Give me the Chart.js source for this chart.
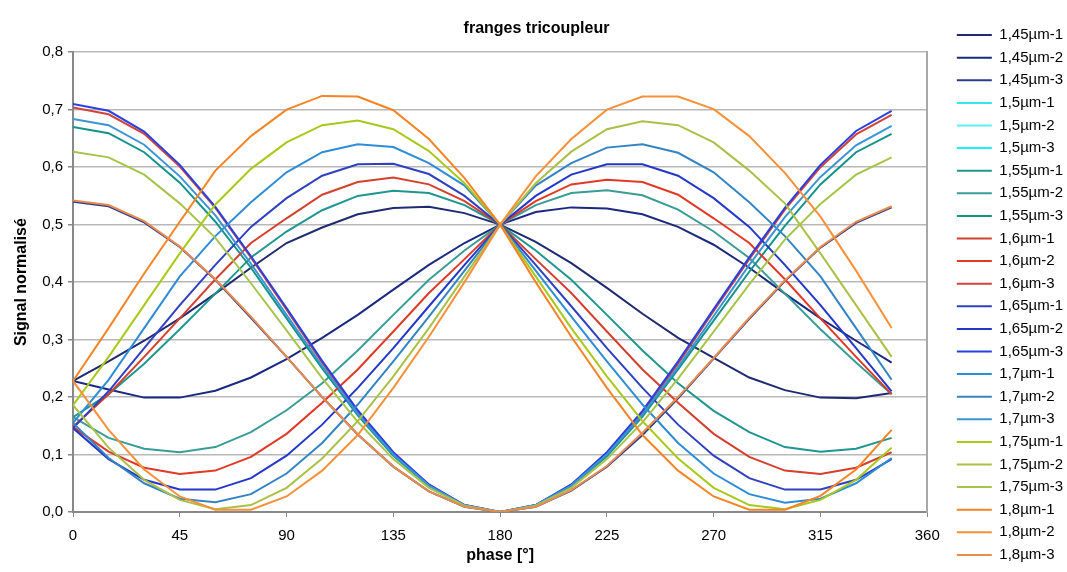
<!DOCTYPE html>
<html>
<head>
<meta charset="utf-8">
<script src="https://cdn.jsdelivr.net/npm/chart.js@4.4.1/dist/chart.umd.min.js"></script>
<style>
html, body { margin: 0; padding: 0; background: #fff; }
</style>
</head>
<body>
<canvas id="graficaFranges" width="1067" height="572"></canvas>
<script>
// phase en degres
const phase = [0, 15, 30, 45, 60, 75, 90, 105, 120, 135, 150, 165, 180, 195, 210, 225, 240, 255, 270, 285, 300, 315, 330, 345];

const s145_1 = [0.228, 0.262, 0.298, 0.337, 0.380, 0.425, 0.468, 0.495, 0.518, 0.529, 0.531, 0.520, 0.500, 0.470, 0.433, 0.390, 0.345, 0.303, 0.268, 0.234, 0.212, 0.199, 0.198, 0.207];
const s145_2 = [0.228, 0.213, 0.199, 0.199, 0.211, 0.234, 0.266, 0.303, 0.343, 0.387, 0.430, 0.468, 0.500, 0.522, 0.530, 0.528, 0.518, 0.496, 0.465, 0.425, 0.380, 0.337, 0.298, 0.260];
const s145_3 = [0.540, 0.532, 0.504, 0.461, 0.404, 0.338, 0.270, 0.200, 0.135, 0.079, 0.036, 0.009, 0.000, 0.009, 0.037, 0.079, 0.134, 0.198, 0.267, 0.336, 0.402, 0.460, 0.503, 0.530];

const s15_1 = [];
const s15_2 = [];
const s15_3 = [];

const s155_1 = [0.165, 0.205, 0.258, 0.318, 0.380, 0.443, 0.488, 0.525, 0.550, 0.559, 0.555, 0.534, 0.500, 0.455, 0.404, 0.343, 0.281, 0.224, 0.176, 0.139, 0.113, 0.105, 0.110, 0.129];
const s155_2 = [0.165, 0.129, 0.110, 0.104, 0.113, 0.139, 0.177, 0.224, 0.281, 0.343, 0.404, 0.455, 0.500, 0.534, 0.555, 0.560, 0.551, 0.526, 0.488, 0.442, 0.380, 0.318, 0.260, 0.205];
const s155_3 = [0.670, 0.659, 0.626, 0.573, 0.505, 0.425, 0.337, 0.250, 0.168, 0.098, 0.045, 0.011, 0.000, 0.011, 0.045, 0.097, 0.166, 0.248, 0.333, 0.418, 0.498, 0.570, 0.626, 0.658];

const s16_1 = [0.148, 0.205, 0.270, 0.337, 0.405, 0.468, 0.511, 0.552, 0.574, 0.582, 0.570, 0.541, 0.500, 0.440, 0.381, 0.314, 0.248, 0.190, 0.136, 0.096, 0.072, 0.066, 0.077, 0.104];
const s16_2 = [0.148, 0.105, 0.077, 0.066, 0.072, 0.096, 0.136, 0.190, 0.248, 0.314, 0.381, 0.440, 0.500, 0.541, 0.570, 0.578, 0.574, 0.552, 0.511, 0.468, 0.405, 0.337, 0.270, 0.205];
const s16_3 = [0.704, 0.692, 0.658, 0.601, 0.529, 0.443, 0.352, 0.260, 0.174, 0.102, 0.047, 0.012, 0.000, 0.012, 0.047, 0.101, 0.173, 0.258, 0.350, 0.440, 0.526, 0.600, 0.657, 0.691];

const s165_1 = [0.146, 0.210, 0.285, 0.360, 0.430, 0.496, 0.546, 0.585, 0.605, 0.606, 0.588, 0.550, 0.500, 0.430, 0.358, 0.285, 0.216, 0.152, 0.098, 0.059, 0.039, 0.039, 0.056, 0.092];
const s165_2 = [0.146, 0.092, 0.056, 0.039, 0.039, 0.059, 0.098, 0.152, 0.216, 0.285, 0.358, 0.430, 0.500, 0.550, 0.587, 0.605, 0.605, 0.585, 0.546, 0.496, 0.430, 0.360, 0.285, 0.210];
const s165_3 = [0.710, 0.698, 0.662, 0.604, 0.531, 0.445, 0.355, 0.263, 0.177, 0.104, 0.048, 0.012, 0.000, 0.012, 0.048, 0.104, 0.176, 0.262, 0.353, 0.443, 0.529, 0.604, 0.663, 0.698];

const s17_1 = [0.155, 0.230, 0.320, 0.410, 0.480, 0.539, 0.591, 0.626, 0.640, 0.635, 0.607, 0.568, 0.500, 0.420, 0.340, 0.262, 0.187, 0.120, 0.067, 0.031, 0.016, 0.023, 0.050, 0.094];
const s17_2 = [0.155, 0.094, 0.050, 0.023, 0.017, 0.031, 0.067, 0.120, 0.187, 0.262, 0.340, 0.420, 0.500, 0.568, 0.607, 0.634, 0.640, 0.625, 0.591, 0.539, 0.480, 0.410, 0.320, 0.230];
const s17_3 = [0.684, 0.673, 0.639, 0.584, 0.516, 0.432, 0.343, 0.254, 0.171, 0.100, 0.046, 0.012, 0.000, 0.012, 0.046, 0.100, 0.170, 0.252, 0.341, 0.430, 0.513, 0.583, 0.638, 0.672];

const s175_1 = [0.186, 0.270, 0.360, 0.450, 0.535, 0.597, 0.643, 0.673, 0.681, 0.666, 0.628, 0.572, 0.500, 0.410, 0.320, 0.236, 0.158, 0.093, 0.042, 0.012, 0.005, 0.021, 0.056, 0.112];
const s175_2 = [0.186, 0.112, 0.056, 0.021, 0.005, 0.012, 0.042, 0.093, 0.158, 0.236, 0.320, 0.410, 0.500, 0.572, 0.627, 0.666, 0.680, 0.673, 0.643, 0.594, 0.537, 0.450, 0.360, 0.270];
const s175_3 = [0.627, 0.617, 0.587, 0.537, 0.477, 0.398, 0.316, 0.233, 0.157, 0.092, 0.042, 0.011, 0.000, 0.011, 0.042, 0.092, 0.156, 0.232, 0.314, 0.396, 0.474, 0.536, 0.587, 0.617];

const s18_1 = [0.228, 0.320, 0.415, 0.505, 0.594, 0.654, 0.700, 0.724, 0.723, 0.699, 0.649, 0.581, 0.500, 0.400, 0.305, 0.216, 0.134, 0.072, 0.027, 0.004, 0.004, 0.028, 0.074, 0.143];
const s18_2 = [0.228, 0.143, 0.074, 0.027, 0.004, 0.004, 0.027, 0.072, 0.134, 0.216, 0.305, 0.400, 0.500, 0.584, 0.649, 0.700, 0.723, 0.723, 0.701, 0.654, 0.590, 0.514, 0.420, 0.320];
const s18_3 = [0.542, 0.534, 0.506, 0.462, 0.405, 0.340, 0.270, 0.200, 0.135, 0.079, 0.036, 0.009, 0.000, 0.009, 0.038, 0.080, 0.138, 0.200, 0.268, 0.338, 0.403, 0.461, 0.505, 0.532];

const noms = [
    '1,45µm-1', '1,45µm-2', '1,45µm-3',
    '1,5µm-1', '1,5µm-2', '1,5µm-3',
    '1,55µm-1', '1,55µm-2', '1,55µm-3',
    '1,6µm-1', '1,6µm-2', '1,6µm-3',
    '1,65µm-1', '1,65µm-2', '1,65µm-3',
    '1,7µm-1', '1,7µm-2', '1,7µm-3',
    '1,75µm-1', '1,75µm-2', '1,75µm-3',
    '1,8µm-1', '1,8µm-2', '1,8µm-3'
];

const valeurs = [
    s145_1, s145_2, s145_3,
    s15_1, s15_2, s15_3,
    s155_1, s155_2, s155_3,
    s16_1, s16_2, s16_3,
    s165_1, s165_2, s165_3,
    s17_1, s17_2, s17_3,
    s175_1, s175_2, s175_3,
    s18_1, s18_2, s18_3
];

const couleurs = [
    '#1f2a70', '#1b2a80', '#2c3a92',
    '#33e6f0', '#5cf0f0', '#1ef0f8',
    '#1f968f', '#3a9c96', '#12948a',
    '#d4402e', '#e03a26', '#d0443a',
    '#2f40c0', '#2438c8', '#2a40e0',
    '#2f8cd6', '#3484c4', '#3a94d6',
    '#a8c81c', '#aac048', '#a6c44a',
    '#f58426', '#f6913a', '#e88c4e'
];

const police = "'Liberation Sans', Arial, sans-serif";

function crearGrafica(id){

    const datasets = noms.map(function(nom, i){
        return {
            label: nom,
            data: valeurs[i].map(function(v, k){ return {x: phase[k], y: v}; }),
            borderColor: couleurs[i],
            backgroundColor: couleurs[i],
            borderWidth: 2,
            pointRadius: 0,
            tension: 0,
            order: noms.length - i
        };
    });

    return new Chart(document.getElementById(id), {
        type: 'line',
        data: { datasets: datasets },
        options: {
            responsive: false,
            animation: false,
            layout: { padding: { top: 18, right: -6, bottom: 0, left: 0 } },
            plugins: {
                title: {
                    display: true,
                    text: 'franges tricoupleur',
                    color: '#000',
                    font: { family: police, size: 16, weight: 'bold' },
                    padding: { top: 1, bottom: 14 }
                },
                legend: {
                    position: 'right',
                    labels: {
                        usePointStyle: true,
                        pointStyle: 'line',
                        pointStyleWidth: 35,
                        color: '#000',
                        font: { family: police, size: 15 },
                        padding: 7.6,
                        sort: function(a, b){ return a.datasetIndex - b.datasetIndex; }
                    }
                },
                tooltip: { enabled: false }
            },
            scales: {
                x: {
                    type: 'linear',
                    min: 0,
                    max: 360,
                    ticks: { stepSize: 45, color: '#000', font: { family: police, size: 15 }, padding: 10, maxRotation: 0 },
                    grid: { drawOnChartArea: false, tickLength: 5, color: '#888' },
                    border: { color: '#888', width: 2 },
                    title: {
                        display: true,
                        text: 'phase [°]',
                        color: '#000',
                        font: { family: police, size: 16, weight: 'bold' },
                        padding: { top: 0, bottom: 7 }
                    },
                    afterFit: function(s){ s.height = 60; }
                },
                y: {
                    min: 0,
                    max: 0.8,
                    ticks: {
                        stepSize: 0.1,
                        color: '#000',
                        font: { family: police, size: 15 },
                        padding: 5,
                        callback: function(v){ return v.toFixed(1).replace('.', ','); }
                    },
                    grid: { color: '#b8b8b8', lineWidth: 1.5, tickLength: 5, tickColor: '#888' },
                    border: { color: '#888', width: 2 },
                    title: {
                        display: true,
                        text: 'Signal normalisé',
                        color: '#000',
                        font: { family: police, size: 16, weight: 'bold' },
                        padding: { top: 12, bottom: 0 }
                    },
                    afterFit: function(s){ s.width = 73; }
                },
                yDroite: {
                    position: 'right',
                    display: true,
                    min: 0,
                    max: 1,
                    grid: { display: false },
                    ticks: { display: false },
                    border: { color: '#a8a8a8', width: 2 },
                    afterFit: function(s){ s.width = 22; }
                }
            }
        }
    });
}

document.addEventListener("DOMContentLoaded", function(){
    crearGrafica("graficaFranges");
});
</script>
</body>
</html>
